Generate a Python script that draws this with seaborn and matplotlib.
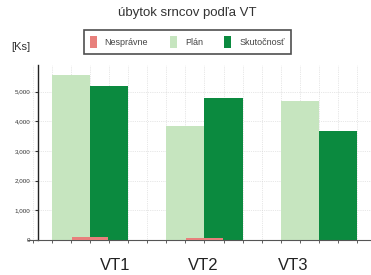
# ── Imports ─────────────────────────────────────────────────
import numpy as np
import pandas as pd
import matplotlib
matplotlib.use('Agg')
import matplotlib.pyplot as plt
import matplotlib.ticker as mticker
from matplotlib.patches import Patch
import seaborn as sns

# ── Data ────────────────────────────────────────────────────
categories = ['VT1', 'VT2', 'VT3']
nespravne = [90, 80, 0]
plan = [5550, 3850, 4700]
skutocnost = [5200, 4800, 3680]
series_names = ['Nesprávne', 'Plán', 'Skutočnosť']
colors = ['#e8807c', '#c6e5bf', '#0b8a3f']

df = pd.DataFrame({
    'VT': categories * 2,
    'typ': ['Plán'] * 3 + ['Skutočnosť'] * 3,
    'ks': plan + skutocnost,
})
df_bad = pd.DataFrame({'VT': categories, 'ks': nespravne})

# ── Plot ────────────────────────────────────────────────────
sns.set_theme(style='white')
plt.rcParams['font.family'] = ['Liberation Sans', 'DejaVu Sans']

fig = plt.figure(figsize=(3.71, 2.75), dpi=100)
ax = fig.add_axes([0.0755, 0.127, 0.9245, 0.637])

sns.barplot(data=df, x='VT', y='ks', hue='typ', hue_order=['Plán', 'Skutočnosť'],
            palette=colors[1:], width=0.664, saturation=1, errorbar=None,
            legend=False, linewidth=0, ax=ax, zorder=2)
sns.barplot(data=df_bad, x='VT', y='ks', color=colors[0], width=0.32,
            saturation=1, errorbar=None, linewidth=0, ax=ax, zorder=3)

ax.set_xlim(-0.541, 2.454)
ax.set_ylim(0, 5900)
ax.set_xlabel('')
ax.set_ylabel('')

# axes / spines
for s in ['top', 'right']:
    ax.spines[s].set_visible(False)
ax.spines['left'].set_position(('data', -0.454))
ax.spines['left'].set_color('#222222')
ax.spines['left'].set_linewidth(1.0)
ax.spines['bottom'].set_color('#555555')
ax.spines['bottom'].set_linewidth(0.8)

# y ticks
ax.yaxis.set_major_locator(mticker.MultipleLocator(1000))
ax.yaxis.set_major_formatter(mticker.FuncFormatter(lambda v, p: f'{int(v):,}'))
ax.tick_params(axis='y', which='major', left=True, length=2.5, width=0.8,
               labelsize=4.5, colors='#333333', pad=3)

# x ticks: small ticks every 1/6 group, labels at fixed spots
ax.set_xticks(np.arange(-3, 15) / 6, minor=True)
ax.set_xticks([0.218, 0.987, 1.773])
ax.set_xticklabels(categories, fontsize=12, color='#222222')
ax.tick_params(axis='x', which='major', bottom=False, pad=7)
ax.tick_params(axis='x', which='minor', bottom=True, length=2.5, width=0.6,
               color='#444444')

# faint dotted grid
ax.grid(True, which='minor', axis='x', linestyle=':', linewidth=0.5, color='#d0d0d0', zorder=0)
ax.grid(True, which='major', axis='y', linestyle=':', linewidth=0.5, color='#d0d0d0', zorder=0)
ax.set_axisbelow(True)

# title, unit, legend
fig.text(0.505, 0.953, 'úbytok srncov podľa VT', ha='center', va='center',
         fontsize=9.5, color='#333333')
fig.text(0.055, 0.829, '[Ks]', ha='center', va='center', fontsize=8, color='#333333')

handles = [Patch(facecolor=c, edgecolor='none') for c in colors]
leg = fig.legend(handles, series_names, loc='center', bbox_to_anchor=(0.505, 0.847),
                 ncol=3, fontsize=6.5, frameon=True, fancybox=False,
                 handlelength=0.75, handleheight=1.7, handletextpad=0.9,
                 columnspacing=2.4, borderpad=0.65)
leg.get_frame().set_edgecolor('#222222')
leg.get_frame().set_linewidth(1.2)
for t in leg.get_texts():
    t.set_color('#444444')

plt.savefig('out.png', dpi=100)
